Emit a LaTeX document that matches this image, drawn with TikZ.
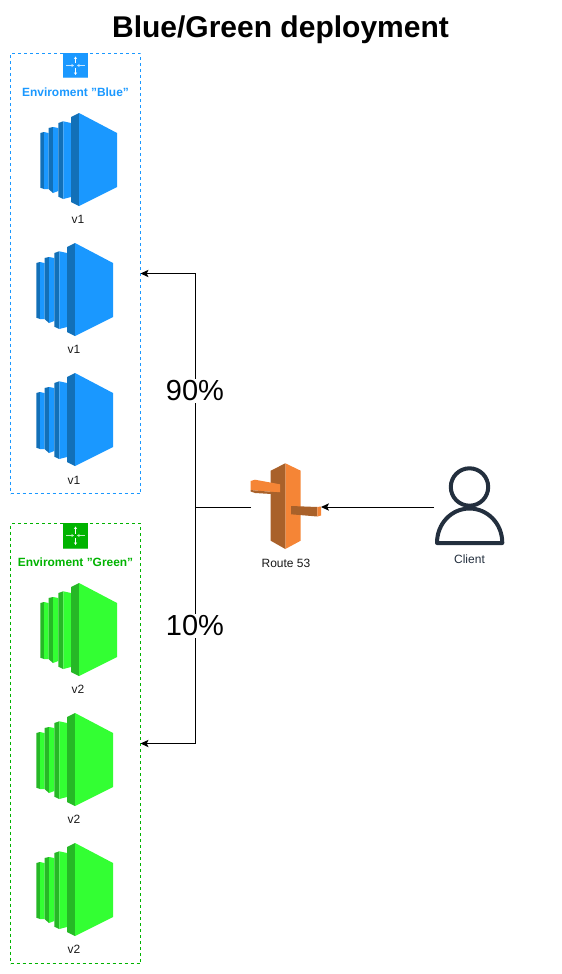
\documentclass[tikz,border=0pt]{standalone}
\usepackage{fontspec}
\setmainfont{Liberation Sans}
\usetikzlibrary{arrows.meta}
\definecolor{bluef}{HTML}{1A98FF}
\definecolor{blued}{HTML}{1270B8}
\definecolor{greenf}{HTML}{33FF33}
\definecolor{greend}{HTML}{26B826}
\definecolor{greenb}{HTML}{00B300}
\definecolor{lab}{HTML}{232F3E}
\definecolor{orf}{HTML}{F58536}
\definecolor{ord}{HTML}{A9612A}
\tikzset{
  x=0.75pt,y=-0.75pt,
  envbox/.style={draw=#1,dash pattern=on 2.25pt off 2.25pt,line width=0.75pt,minimum width=97.5pt,minimum height=330pt,inner sep=0pt,outer sep=0pt},
  envtitle/.style={font=\bfseries\fontsize{8.95pt}{10pt}\selectfont,text=#1,inner sep=0pt},
  small/.style={font=\fontsize{9pt}{10pt}\selectfont,text=black!90,inner sep=0pt},
  pct/.style={font=\fontsize{21.75pt}{24pt}\selectfont,fill=white,inner sep=1.5pt,text=black},
  conn/.style={line width=0.75pt,draw=black},
  connarrow/.style={conn,-{Stealth[length=6pt,width=5.5pt,inset=1.4pt]}},
  pics/instance/.style n args={2}{code={
    \fill[#2] (-0.7,20) -- (3,19) -- (3,76) -- (-0.7,74.7) -- cycle;
    \fill[#1] (3,19) -- (7.5,20) -- (7.5,76) -- (3,76) -- cycle;
    \fill[#2] (7.5,15) -- (12,14) -- (12,80) -- (7.5,76) -- cycle;
    \fill[#1] (12,14) -- (17.3,15) -- (17.3,78) -- (12,80) -- cycle;
    \fill[#2] (17.3,10) -- (22.3,8.3) -- (22.3,86) -- (17.3,83.7) -- cycle;
    \fill[#1] (22.3,8.3) -- (30,10) -- (30,84) -- (22.3,86) -- cycle;
    \fill[#2] (30,4) -- (38,0) -- (38,93) -- (30,89) -- cycle;
    \fill[#1] (38,0) -- (76,20) -- (76,74) -- (38,93) -- cycle;
  }},
  pics/envicon/.style={code={
    \fill[#1] (0,0) rectangle (25,25.5);
    \fill[#1!70!white] (0,24.5) rectangle (25,25.5);
    \draw[white,line width=0.6pt,-{Stealth[length=2pt,width=2.4pt]}] (12.5,10.5) -- (12.5,3.5);
    \draw[white,line width=0.6pt,-{Stealth[length=2pt,width=2.4pt]}] (12.5,15) -- (12.5,22);
    \draw[white!75!#1,line width=0.6pt,-{Stealth[length=2pt,width=2.4pt]}] (3.3,12.5) -- (11,12.5);
    \draw[white!75!#1,line width=0.6pt,-{Stealth[length=2pt,width=2.4pt]}] (21.5,12.5) -- (14,12.5);
  }}
}
\begin{document}
\begin{tikzpicture}
\useasboundingbox (0,0) rectangle (561,974);
\node[font=\bfseries\fontsize{22.5pt}{26pt}\selectfont,inner sep=0pt] (title) at (280.5,30) {Blue/Green deployment};

% environments
\node[envbox=bluef] (blue) at (75.5,273.5) {};
\node[envbox=greenb] (green) at (75.5,743.5) {};
\pic at (63,53) {envicon=bluef};
\pic at (63,523) {envicon=greenb};
\node[envtitle=bluef] (bluetitle) at (75.5,92) {Enviroment "Blue"};
\node[envtitle=greenb] (greentitle) at (75.5,562) {Enviroment "Green"};

% instances
\pic at (41,113) {instance={bluef}{blued}};
\pic at (37,243) {instance={bluef}{blued}};
\pic at (37,373) {instance={bluef}{blued}};
\pic at (41,583) {instance={greenf}{greend}};
\pic at (37,713) {instance={greenf}{greend}};
\pic at (37,843) {instance={greenf}{greend}};
\node[small] (b1) at (78,219.5) {v1};
\node[small] (b2) at (74,349.5) {v1};
\node[small] (b3) at (74,480) {v1};
\node[small] (g1) at (78,689.5) {v2};
\node[small] (g2) at (74,819.5) {v2};
\node[small] (g3) at (74,949.5) {v2};

% Route 53
\node[minimum width=52.5pt,minimum height=64.5pt,inner sep=0pt,outer sep=0pt] (r53) at (286,507) {};
\fill[orf] (285.3,463.3) -- (300.7,470.7) -- (300.7,540.7) -- (285.3,549) -- cycle;
\fill[ord] (285.3,463.3) -- (270.7,470.7) -- (270.7,540.7) -- (285.3,549) -- cycle;
\fill[orf] (250.7,481) -- (255,479.7) -- (280,484.3) -- (280,492.5) -- (255,490.5) -- (250.7,490) -- cycle;
\fill[ord] (250.7,490) -- (255,490.5) -- (280,492.5) -- (280,494.5) -- (255,493) -- (250.7,491.5) -- cycle;
\fill[ord] (291,506) -- (317.3,507) -- (317.3,516.5) -- (291,514.3) -- cycle;
\fill[orf] (317.3,507) -- (321,506.5) -- (321,515.5) -- (317.3,516.5) -- cycle;
\node[small] (r53lab) at (286,563) {Route 53};

% Client
\node[minimum width=53.25pt,minimum height=60pt,inner sep=0pt,outer sep=0pt] (client) at (469.5,507) {};
\draw[lab,line width=3pt] (469.5,487) circle (18.7);
\draw[lab,line width=3pt,line join=round] (437,543) .. controls (437,523) and (452,508.5) .. (469.5,508.5) .. controls (487,508.5) and (502.3,523) .. (502.3,543) -- cycle;
\node[small,text=lab] (clientlab) at (469.5,559) {Client};

% connectors
\coordinate (junc) at (195,507);
\draw[conn] (r53.west) -- (junc);
\draw[connarrow] (junc) |- (blue.east);
\draw[connarrow] (junc) |- (green.east);
\draw[connarrow] (client.west) -- (r53.east);
\node[pct] (p90) at (195,391) {90\%};
\node[pct] (p10) at (195,626) {10\%};
\end{tikzpicture}
\end{document}
